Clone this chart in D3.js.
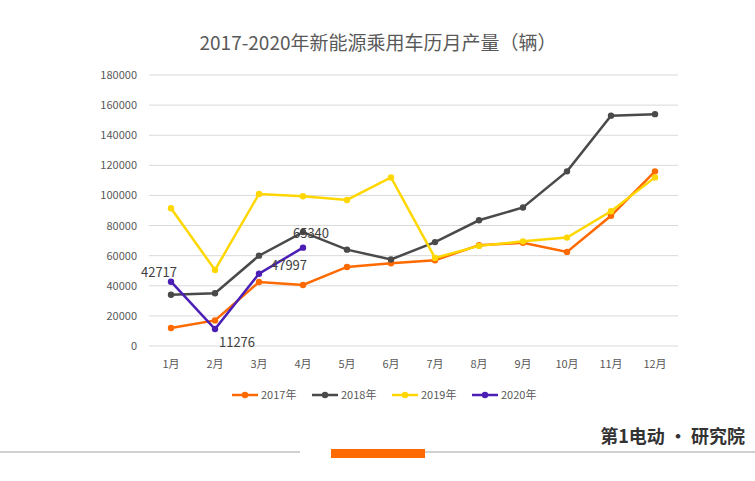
<!DOCTYPE html>
<html><head><meta charset="utf-8">
<script src="https://cdn.jsdelivr.net/npm/d3@7"></script>
<style>body{margin:0;background:#fff}svg{font-family:"Microsoft YaHei","Noto Sans CJK SC",sans-serif}</style>
</head><body><svg id="c" width="755" height="481"></svg>
<script>
const months = ["1月","2月","3月","4月","5月","6月","7月","8月","9月","10月","11月","12月"];
const yTicks = [0,20000,40000,60000,80000,100000,120000,140000,160000,180000];
const s2017 = [12000,17000,42500,40500,52500,55000,57000,67000,68500,62500,86500,116000];
const s2018 = [34000,35000,60000,75700,64000,57500,69000,83500,92000,116000,153000,154000];
const s2019 = [91500,50500,101000,99500,97000,112000,58500,66500,69500,72000,89500,112000];
const s2020 = [42717,11276,47997,65340];
const series = [
  {name:"2017年", values:s2017, color:"#ff6a00"},
  {name:"2018年", values:s2018, color:"#4a4a4a"},
  {name:"2019年", values:s2019, color:"#ffd700"},
  {name:"2020年", values:s2020, color:"#4b1fb5"}
];

const svg = d3.select("#c");
const x = d3.scalePoint().domain(months).range([171, 655]);
const y = d3.scaleLinear().domain([0,180000]).range([346, 75]);

svg.append("text").attr("x", 378).attr("y", 50).attr("text-anchor","middle")
  .attr("font-size", 19).attr("fill","#595959").text("2017-2020年新能源乘用车历月产量（辆）");

const grid = svg.append("g");
grid.selectAll("line").data(yTicks).join("line")
  .attr("x1",149).attr("x2",678).attr("y1",d=>y(d)).attr("y2",d=>y(d))
  .attr("stroke","#d9d9d9");
grid.selectAll("text").data(yTicks).join("text")
  .attr("x",137).attr("y",d=>y(d)+4).attr("text-anchor","end")
  .attr("font-size",11).attr("fill","#595959").text(d=>d);
svg.append("g").selectAll("text").data(months).join("text")
  .attr("x",d=>x(d)).attr("y",368).attr("text-anchor","middle")
  .attr("font-size",11).attr("fill","#595959").text(d=>d);

const line = d3.line().x((d,i)=>x(months[i])).y(d=>y(d));
series.forEach(s => {
  const g = svg.append("g");
  g.append("path").attr("d", line(s.values)).attr("fill","none")
    .attr("stroke", s.color).attr("stroke-width", 2.5);
  g.selectAll("circle").data(s.values).join("circle")
    .attr("cx",(d,i)=>x(months[i])).attr("cy",d=>y(d)).attr("r",3.2).attr("fill",s.color);
});

const lab = [[0,-12,-5],[1,22,18],[2,30,-4],[3,8,-10]];
svg.append("g").selectAll("text").data(lab).join("text")
  .attr("x",d=>x(months[d[0]])+d[1]).attr("y",d=>y(s2020[d[0]])+d[2])
  .attr("text-anchor","middle").attr("font-size",13).attr("fill","#404040")
  .text(d=>s2020[d[0]]);

const leg = svg.append("g").selectAll("g").data(series).join("g")
  .attr("transform",(d,i)=>`translate(${232+i*80},395)`);
leg.append("line").attr("x1",0).attr("x2",26).attr("stroke",d=>d.color).attr("stroke-width",2.5);
leg.append("circle").attr("cx",13).attr("r",3.2).attr("fill",d=>d.color);
leg.append("text").attr("x",29).attr("y",4).attr("font-size",11).attr("fill","#595959").text(d=>d.name);

svg.append("line").attr("x1",0).attr("x2",300).attr("y1",452).attr("y2",452).attr("stroke","#d0d0d0").attr("stroke-width",2);
svg.append("line").attr("x1",425).attr("x2",755).attr("y1",452).attr("y2",452).attr("stroke","#d0d0d0").attr("stroke-width",2);
svg.append("rect").attr("x",331).attr("y",449).attr("width",94).attr("height",9).attr("fill","#ff6a00");
svg.append("text").attr("x",745).attr("y",443).attr("text-anchor","end").attr("font-size",18)
  .attr("fill","#333").attr("font-weight","bold").text("第1电动 • 研究院");
</script></body></html>
